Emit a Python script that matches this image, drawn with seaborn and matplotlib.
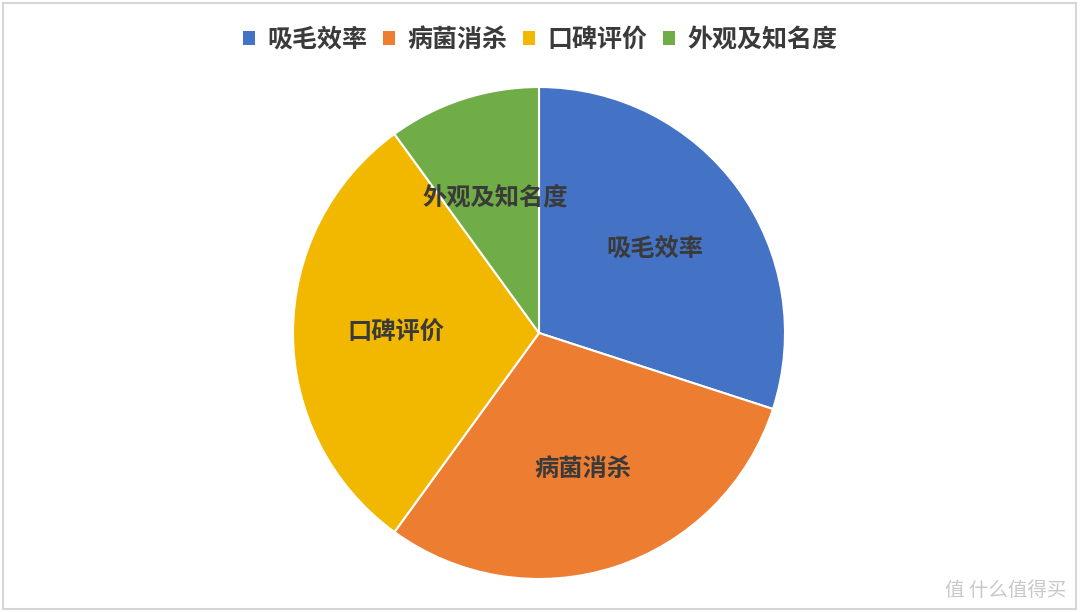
import matplotlib
matplotlib.use("Agg")
import matplotlib.pyplot as plt
import seaborn as sns

sns.set_theme(style="white")
plt.rcParams['font.family'] = ['Noto Sans CJK SC', 'DejaVu Sans']

# data
categories = ["吸毛效率", "病菌消杀", "口碑评价", "外观及知名度"]
shares = [30, 30, 30, 10]
colors = ["#4472C4", "#ED7D31", "#F2B800", "#70AD47"]

W, H = 1080, 612
fig = plt.figure(figsize=(W / 100, H / 100), dpi=100)

# pie area: centre (539, 333) px, radius 246 px
cx, cy, r = 539, 333, 246
ax = fig.add_axes([(cx - r) / W, (H - cy - r) / H, 2 * r / W, 2 * r / H])

wedges, texts = ax.pie(shares, labels=categories, colors=colors,
                       startangle=90, counterclock=False,
                       labeldistance=0.58, radius=1,
                       wedgeprops=dict(edgecolor="white", linewidth=1.5),
                       textprops=dict(fontsize=17.5, color="#3A3A3A",
                                      fontweight="bold"))
for t in texts:
    t.set_horizontalalignment("center")
    t.set_verticalalignment("center")
ax.set_xlim(-1, 1)
ax.set_ylim(-1, 1)
ax.set_aspect("equal")
ax.axis("off")

leg = fig.legend(wedges, categories, loc="center", bbox_to_anchor=(540 / W, 1 - 40 / H),
                 ncol=4, frameon=False, handlelength=0.5, handleheight=0.5,
                 handletextpad=0.5, columnspacing=0.6, labelcolor="#3A3A3A",
                 prop=dict(size=18, weight="bold"))
for h in leg.legend_handles:
    h.set_edgecolor("none")

# outer frame
fig.patches.append(plt.Rectangle((3 / W, 3 / H), 1073 / W, 606 / H, transform=fig.transFigure,
                                 fill=False, edgecolor="#D6D6D6", linewidth=1.5))

# watermark
fig.text(1066 / W, 1 - 590 / H, "值 什么值得买", ha="right", va="center",
         fontsize=14, color="#C8C8C8")

fig.savefig("out.png", dpi=100, facecolor="white")
